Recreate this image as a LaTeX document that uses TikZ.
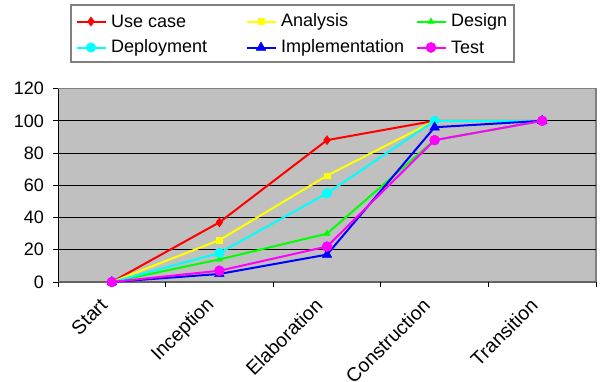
\documentclass[tikz,border=0pt]{standalone}
\usepackage{fontspec}
\setmainfont{Liberation Sans}
\usetikzlibrary{plotmarks}
\definecolor{plotbg}{RGB}{192,192,192}
\definecolor{frame}{RGB}{128,128,128}
\definecolor{axisgrey}{RGB}{100,100,100}
\definecolor{usecase}{RGB}{255,0,0}
\definecolor{analysis}{RGB}{255,255,0}
\definecolor{design}{RGB}{0,255,0}
\definecolor{deploy}{RGB}{0,255,255}
\definecolor{impl}{RGB}{0,0,255}
\definecolor{test}{RGB}{255,0,255}
\tikzset{
  series/.style={line width=2pt,mark options={solid,line width=0.5pt}},
  sUse/.style={series,usecase,mark=diamond*,mark size=4.5pt},
  sAna/.style={series,analysis,mark=square*,mark size=2.8pt},
  sDes/.style={series,design,mark=triangle*,mark size=3.5pt},
  sDep/.style={series,deploy,mark=*,mark size=4.8pt},
  sImp/.style={series,impl,mark=triangle*,mark size=5.5pt},
  sTst/.style={series,test,mark=*,mark size=5pt},
  gridline/.style={black,line width=1pt},
  lbl/.style={font=\fontsize{18}{20}\selectfont,inner sep=0pt},
  catlbl/.style={lbl,font=\fontsize{19.5}{21}\selectfont,rotate=45,anchor=east},
}

\begin{document}
\begin{tikzpicture}[x=1pt,y=-1pt]
  \useasboundingbox (0,0) rectangle (600,381);
  % legend
  \draw[frame,line width=1.2pt,fill=white] (71,5) rectangle (514,62);
  \foreach \st/\px/\py/\txt [count=\k] in
     {sUse/77/21.5/Use case, sAna/247/21.5/Analysis, sDes/417/21.5/Design,
      sDep/77/47.5/Deployment, sImp/247/47.5/Implementation, sTst/417/47.5/Test} {
    \draw[\st,mark indices={2}] plot coordinates {(\px,\py) (\px+14,\py) (\px+29,\py)};
    \node[lbl,anchor=west] (key\k) at (\px+34,\py) {\txt};
  }
  % plot area
  \begin{scope}[shift={(58,282)},x=107.6pt,y=1.612pt]
    \fill[plotbg] (0,0) rectangle (5,120);
    \draw[frame,line width=1.2pt] (0,120) -- (5,120) -- (5,0);
    \foreach \v in {20,40,...,100}
      \draw[gridline] (0,\v) -- (5,\v);
    \draw[black,line width=1pt] (0,0) -- (0,120);
    \foreach \v in {0,20,...,120} {
      \draw[black,line width=1pt] (0,\v) -- ++(-5pt,0);
      \node[lbl,anchor=east] (ytick\v) at ([xshift=-14pt]0,\v) {\v};
    }
    \draw[axisgrey,line width=2pt] (0,0) -- (5,0);
    \foreach \i in {0,...,5}
      \draw[black,line width=1pt] (\i,0) -- ++(0,-5pt);
    \foreach \n [count=\i from 0] in {Start,Inception,Elaboration,Construction,Transition}
      \node[catlbl] (cat\i) at ([xshift=-8pt,yshift=-20pt]\i+0.5,0) {\n};
    % series
    \draw[sUse] plot coordinates {(0.5,0) (1.5,37) (2.5,88) (3.5,100) (4.5,100)};
    \draw[sAna] plot coordinates {(0.5,0) (1.5,26) (2.5,66) (3.5,100) (4.5,100)};
    \draw[sDes] plot coordinates {(0.5,0) (1.5,14) (2.5,30) (3.5,88) (4.5,100)};
    \draw[sDep] plot coordinates {(0.5,0) (1.5,18) (2.5,55) (3.5,100) (4.5,100)};
    \draw[sImp] plot coordinates {(0.5,0) (1.5,5) (2.5,17) (3.5,96) (4.5,100)};
    \draw[sTst] plot coordinates {(0.5,0) (1.5,7) (2.5,22) (3.5,88) (4.5,100)};
  \end{scope}
\end{tikzpicture}
\end{document}
